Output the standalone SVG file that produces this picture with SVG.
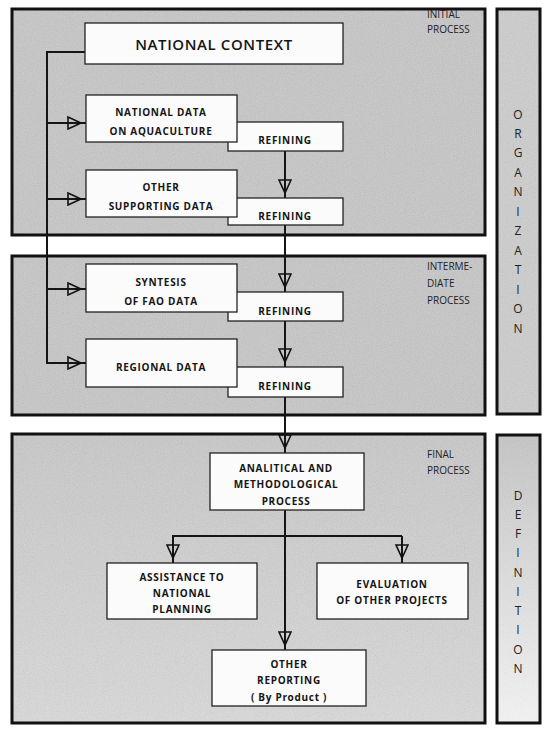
<svg xmlns="http://www.w3.org/2000/svg" width="550" height="734" viewBox="0 0 550 734">
<style>
.panel{stroke:#111;stroke-width:3}
.box{fill:#fbfbfb;stroke:#222;stroke-width:1.3}
.t{font-family:"Open Sans","Liberation Sans",sans-serif;font-weight:700;font-size:10px;letter-spacing:0.7px;fill:#151515;text-anchor:middle}
.title{font-family:"Open Sans","Liberation Sans",sans-serif;font-weight:600;font-size:15px;letter-spacing:0.6px;fill:#151515;text-anchor:middle}
.lbl{font-family:"Open Sans","Liberation Sans",sans-serif;font-size:10px;fill:#222}
.side{font-family:"Open Sans","Liberation Sans",sans-serif;font-size:12px;fill:#222;text-anchor:middle}
.conn{fill:none;stroke:#151515;stroke-width:2}
</style>
<defs>
<filter id="grain" x="0" y="0" width="100%" height="100%">
<feTurbulence type="fractalNoise" baseFrequency="0.9" numOctaves="2" seed="7"/>
<feColorMatrix type="matrix" values="0.33 0.33 0.33 0 0 0.33 0.33 0.33 0 0 0.33 0.33 0.33 0 0 0 0 0 0 1"/>
</filter>
<linearGradient id="g3" x1="0" y1="0" x2="0" y2="1">
<stop offset="0" stop-color="#cbcbcb"/><stop offset="1" stop-color="#dedede"/>
</linearGradient>
<linearGradient id="gdef" x1="0" y1="0" x2="0" y2="1">
<stop offset="0" stop-color="#c6c6c6"/><stop offset="0.4" stop-color="#dcdcdc"/><stop offset="1" stop-color="#fafafa"/>
</linearGradient>
<marker id="ah" viewBox="0 0 20 14" refX="20" refY="7" markerWidth="20" markerHeight="14" markerUnits="userSpaceOnUse" orient="auto">
<path d="M2,1 L15,7 L2,13 Z" fill="none" stroke="#111" stroke-width="1.6"/>
</marker>
</defs>
<rect width="550" height="734" fill="#ffffff"/>

<g id="panel-initial">
<rect x="12" y="9" width="473" height="226" fill="#c9c9c9"/>
<rect x="12" y="9" width="473" height="226" fill="#000" filter="url(#grain)" opacity="0.22"/>
<rect class="panel" x="12" y="9" width="473" height="226" fill="none"/>
<text class="lbl" x="427" y="18">INITIAL</text>
<text class="lbl" x="427" y="33">PROCESS</text>
</g>
<g id="panel-intermediate">
<rect x="12" y="256" width="473" height="159" fill="#c9c9c9"/>
<rect x="12" y="256" width="473" height="159" fill="#000" filter="url(#grain)" opacity="0.22"/>
<rect class="panel" x="12" y="256" width="473" height="159" fill="none"/>
<text class="lbl" x="427" y="270">INTERME-</text>
<text class="lbl" x="427" y="287">DIATE</text>
<text class="lbl" x="427" y="304">PROCESS</text>
</g>
<g id="panel-final">
<rect x="12" y="434" width="473" height="289" fill="url(#g3)"/>
<rect x="12" y="434" width="473" height="289" fill="#000" filter="url(#grain)" opacity="0.22"/>
<rect class="panel" x="12" y="434" width="473" height="289" fill="none"/>
<text class="lbl" x="427" y="458">FINAL</text>
<text class="lbl" x="427" y="474">PROCESS</text>
</g>
<g id="side-organization">
<rect x="497" y="9" width="43" height="405" fill="#d0d0d0"/>
<rect x="497" y="9" width="43" height="405" fill="#000" filter="url(#grain)" opacity="0.2"/>
<rect class="panel" x="497" y="9" width="43" height="405" fill="none"/>
<text class="side" x="518" y="118.5">O</text>
<text class="side" x="518" y="138">R</text>
<text class="side" x="518" y="157.4">G</text>
<text class="side" x="518" y="176.8">A</text>
<text class="side" x="518" y="196.3">N</text>
<text class="side" x="518" y="215.7">I</text>
<text class="side" x="518" y="235.2">Z</text>
<text class="side" x="518" y="254.6">A</text>
<text class="side" x="518" y="274.1">T</text>
<text class="side" x="518" y="293.5">I</text>
<text class="side" x="518" y="313">O</text>
<text class="side" x="518" y="332.5">N</text>
</g>
<g id="side-definition">
<rect x="497" y="435" width="43" height="288" fill="url(#gdef)"/>
<rect x="497" y="435" width="43" height="288" fill="#000" filter="url(#grain)" opacity="0.15"/>
<rect class="panel" x="497" y="435" width="43" height="288" fill="none"/>
<text class="side" x="518" y="499.5">D</text>
<text class="side" x="518" y="519">E</text>
<text class="side" x="518" y="538">F</text>
<text class="side" x="518" y="557">I</text>
<text class="side" x="518" y="577">N</text>
<text class="side" x="518" y="596">I</text>
<text class="side" x="518" y="615">T</text>
<text class="side" x="518" y="634">I</text>
<text class="side" x="518" y="654">O</text>
<text class="side" x="518" y="673">N</text>
</g>

<g id="connectors">
<path class="conn" d="M85,52 H47 V363 H86" marker-end="url(#ah)"/>
<line class="conn" x1="47" y1="123" x2="86" y2="123" marker-end="url(#ah)"/>
<line class="conn" x1="47" y1="199" x2="86" y2="199" marker-end="url(#ah)"/>
<line class="conn" x1="47" y1="289" x2="86" y2="289" marker-end="url(#ah)"/>
<line class="conn" x1="285" y1="151" x2="285" y2="198" marker-end="url(#ah)"/>
<line class="conn" x1="285" y1="225" x2="285" y2="292" marker-end="url(#ah)"/>
<line class="conn" x1="285" y1="321" x2="285" y2="367" marker-end="url(#ah)"/>
<line class="conn" x1="285" y1="397" x2="285" y2="453" marker-end="url(#ah)"/>
<line class="conn" x1="285" y1="510" x2="285" y2="650" marker-end="url(#ah)"/>
<path class="conn" d="M173,563 V536 H402"/>
<line class="conn" x1="173" y1="536" x2="173" y2="563" marker-end="url(#ah)"/>
<line class="conn" x1="402" y1="536" x2="402" y2="563" marker-end="url(#ah)"/>
</g>

<g id="national-context">
<rect class="box" x="85" y="23" width="258" height="41"/>
<text class="title" x="214" y="50">NATIONAL CONTEXT</text>
</g>
<g id="refining-1">
<rect class="box" x="228" y="122" width="115" height="29"/>
<text class="t" x="285" y="144">REFINING</text>
</g>
<g id="national-data">
<rect class="box" x="86" y="95" width="151" height="47"/>
<text class="t" x="161" y="116">NATIONAL DATA</text>
<text class="t" x="161" y="135">ON AQUACULTURE</text>
</g>
<g id="refining-2">
<rect class="box" x="228" y="198" width="115" height="27"/>
<text class="t" x="285" y="220">REFINING</text>
</g>
<g id="other-supporting">
<rect class="box" x="86" y="170" width="151" height="47"/>
<text class="t" x="161" y="191">OTHER</text>
<text class="t" x="161" y="210">SUPPORTING DATA</text>
</g>
<g id="refining-3">
<rect class="box" x="228" y="292" width="115" height="29"/>
<text class="t" x="285" y="315">REFINING</text>
</g>
<g id="syntesis">
<rect class="box" x="86" y="264" width="151" height="48"/>
<text class="t" x="161" y="286">SYNTESIS</text>
<text class="t" x="161" y="305">OF FAO DATA</text>
</g>
<g id="refining-4">
<rect class="box" x="228" y="367" width="115" height="30"/>
<text class="t" x="285" y="390">REFINING</text>
</g>
<g id="regional-data">
<rect class="box" x="86" y="339" width="151" height="48"/>
<text class="t" x="161" y="371">REGIONAL DATA</text>
</g>
<g id="analitical">
<rect class="box" x="210" y="453" width="154" height="57"/>
<text class="t" x="286" y="472">ANALITICAL AND</text>
<text class="t" x="286" y="488">METHODOLOGICAL</text>
<text class="t" x="286" y="505">PROCESS</text>
</g>
<g id="assistance">
<rect class="box" x="107" y="563" width="150" height="56"/>
<text class="t" x="182" y="581">ASSISTANCE TO</text>
<text class="t" x="182" y="597">NATIONAL</text>
<text class="t" x="182" y="613">PLANNING</text>
</g>
<g id="evaluation">
<rect class="box" x="317" y="563" width="151" height="56"/>
<text class="t" x="392" y="588">EVALUATION</text>
<text class="t" x="392" y="604">OF OTHER PROJECTS</text>
</g>
<g id="other-reporting">
<rect class="box" x="212" y="650" width="154" height="56"/>
<text class="t" x="289" y="668">OTHER</text>
<text class="t" x="289" y="684">REPORTING</text>
<text class="t" x="289" y="701">( By Product )</text>
</g>
</svg>
